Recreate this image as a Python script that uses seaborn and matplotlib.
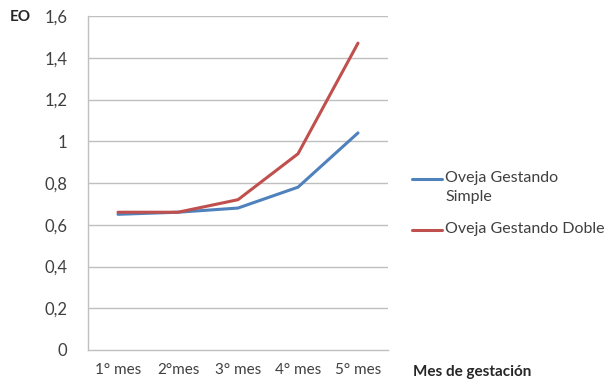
import matplotlib
matplotlib.use("Agg")
import matplotlib.pyplot as plt
from matplotlib.ticker import FixedLocator
from matplotlib.lines import Line2D
import seaborn as sns
import pandas as pd

meses = ["1° mes", "2°mes", "3° mes", "4° mes", "5° mes"]
simple = [0.65, 0.66, 0.68, 0.78, 1.04]
doble = [0.66, 0.66, 0.72, 0.94, 1.47]
series = ["Oveja Gestando\nSimple", "Oveja Gestando Doble"]
colores = ["#4F81BD", "#C0504D"]
y_ticks = [0, 0.2, 0.4, 0.6, 0.8, 1.0, 1.2, 1.4, 1.6]
y_labels = ["0", "0,2", "0,4", "0,6", "0,8", "1", "1,2", "1,4", "1,6"]

df = pd.DataFrame({
    "pos": list(range(len(meses))) * 2,
    "EO": simple + doble,
    "serie": [series[0]] * len(meses) + [series[1]] * len(meses),
})

sns.set_style("white")
plt.rcParams["font.family"] = ["Lato", "DejaVu Sans"]

text_col = "#404040"
grid_col = "#bfbfbf"

fig = plt.figure(figsize=(6.12, 3.82), dpi=100)
ax = fig.add_axes([88 / 612, 1 - 350 / 382, 300 / 612, 334 / 382])

sns.lineplot(data=df, x="pos", y="EO", hue="serie", hue_order=series,
             palette=colores, linewidth=2.2, ax=ax, legend=False)

ax.set_xlim(-0.5, len(meses) - 0.5)
ax.set_ylim(0, 1.6)
ax.set_yticks(y_ticks)
ax.set_yticklabels(y_labels)
ax.set_xticks(range(len(meses)))
ax.set_xticklabels(meses)
ax.xaxis.set_minor_locator(FixedLocator([i - 0.5 for i in range(len(meses) + 1)]))
ax.tick_params(axis="x", which="major", length=0, pad=9, labelsize=11, labelcolor=text_col)
ax.tick_params(axis="x", which="minor", length=5, color=grid_col, width=1, direction="out")
ax.tick_params(axis="y", length=5, color=grid_col, width=1, pad=10, labelsize=12,
               labelcolor=text_col, direction="out")

for y in y_ticks[1:]:
    ax.axhline(y, color=grid_col, linewidth=1, zorder=0)

for side in ["top", "right"]:
    ax.spines[side].set_visible(False)
for side in ["left", "bottom"]:
    ax.spines[side].set_color(grid_col)
    ax.spines[side].set_linewidth(1)

ax.set_xlabel("")
ax.set_ylabel("")

fig.text(10 / 612, 1 - 17 / 382, "EO", fontsize=11, fontweight="bold",
         color="#262626", va="center", ha="left")
fig.text(413 / 612, 1 - 372 / 382, "Mes de gestación", fontsize=11,
         fontweight="bold", color="#262626", va="center", ha="left")

# Legend: handle aligned with the first line of each label
legend_rows = [179, 230]
for label, color, ypx in zip(series, colores, legend_rows):
    yf = 1 - ypx / 382
    fig.add_artist(Line2D([412 / 612, 442 / 612], [yf, yf], color=color,
                          linewidth=2.2, transform=fig.transFigure))
    fig.text(445 / 612, 1 - (ypx - 8) / 382, label, fontsize=11.5, color=text_col,
             va="top", ha="left", linespacing=1.45)

fig.savefig("out.png", dpi=100)
